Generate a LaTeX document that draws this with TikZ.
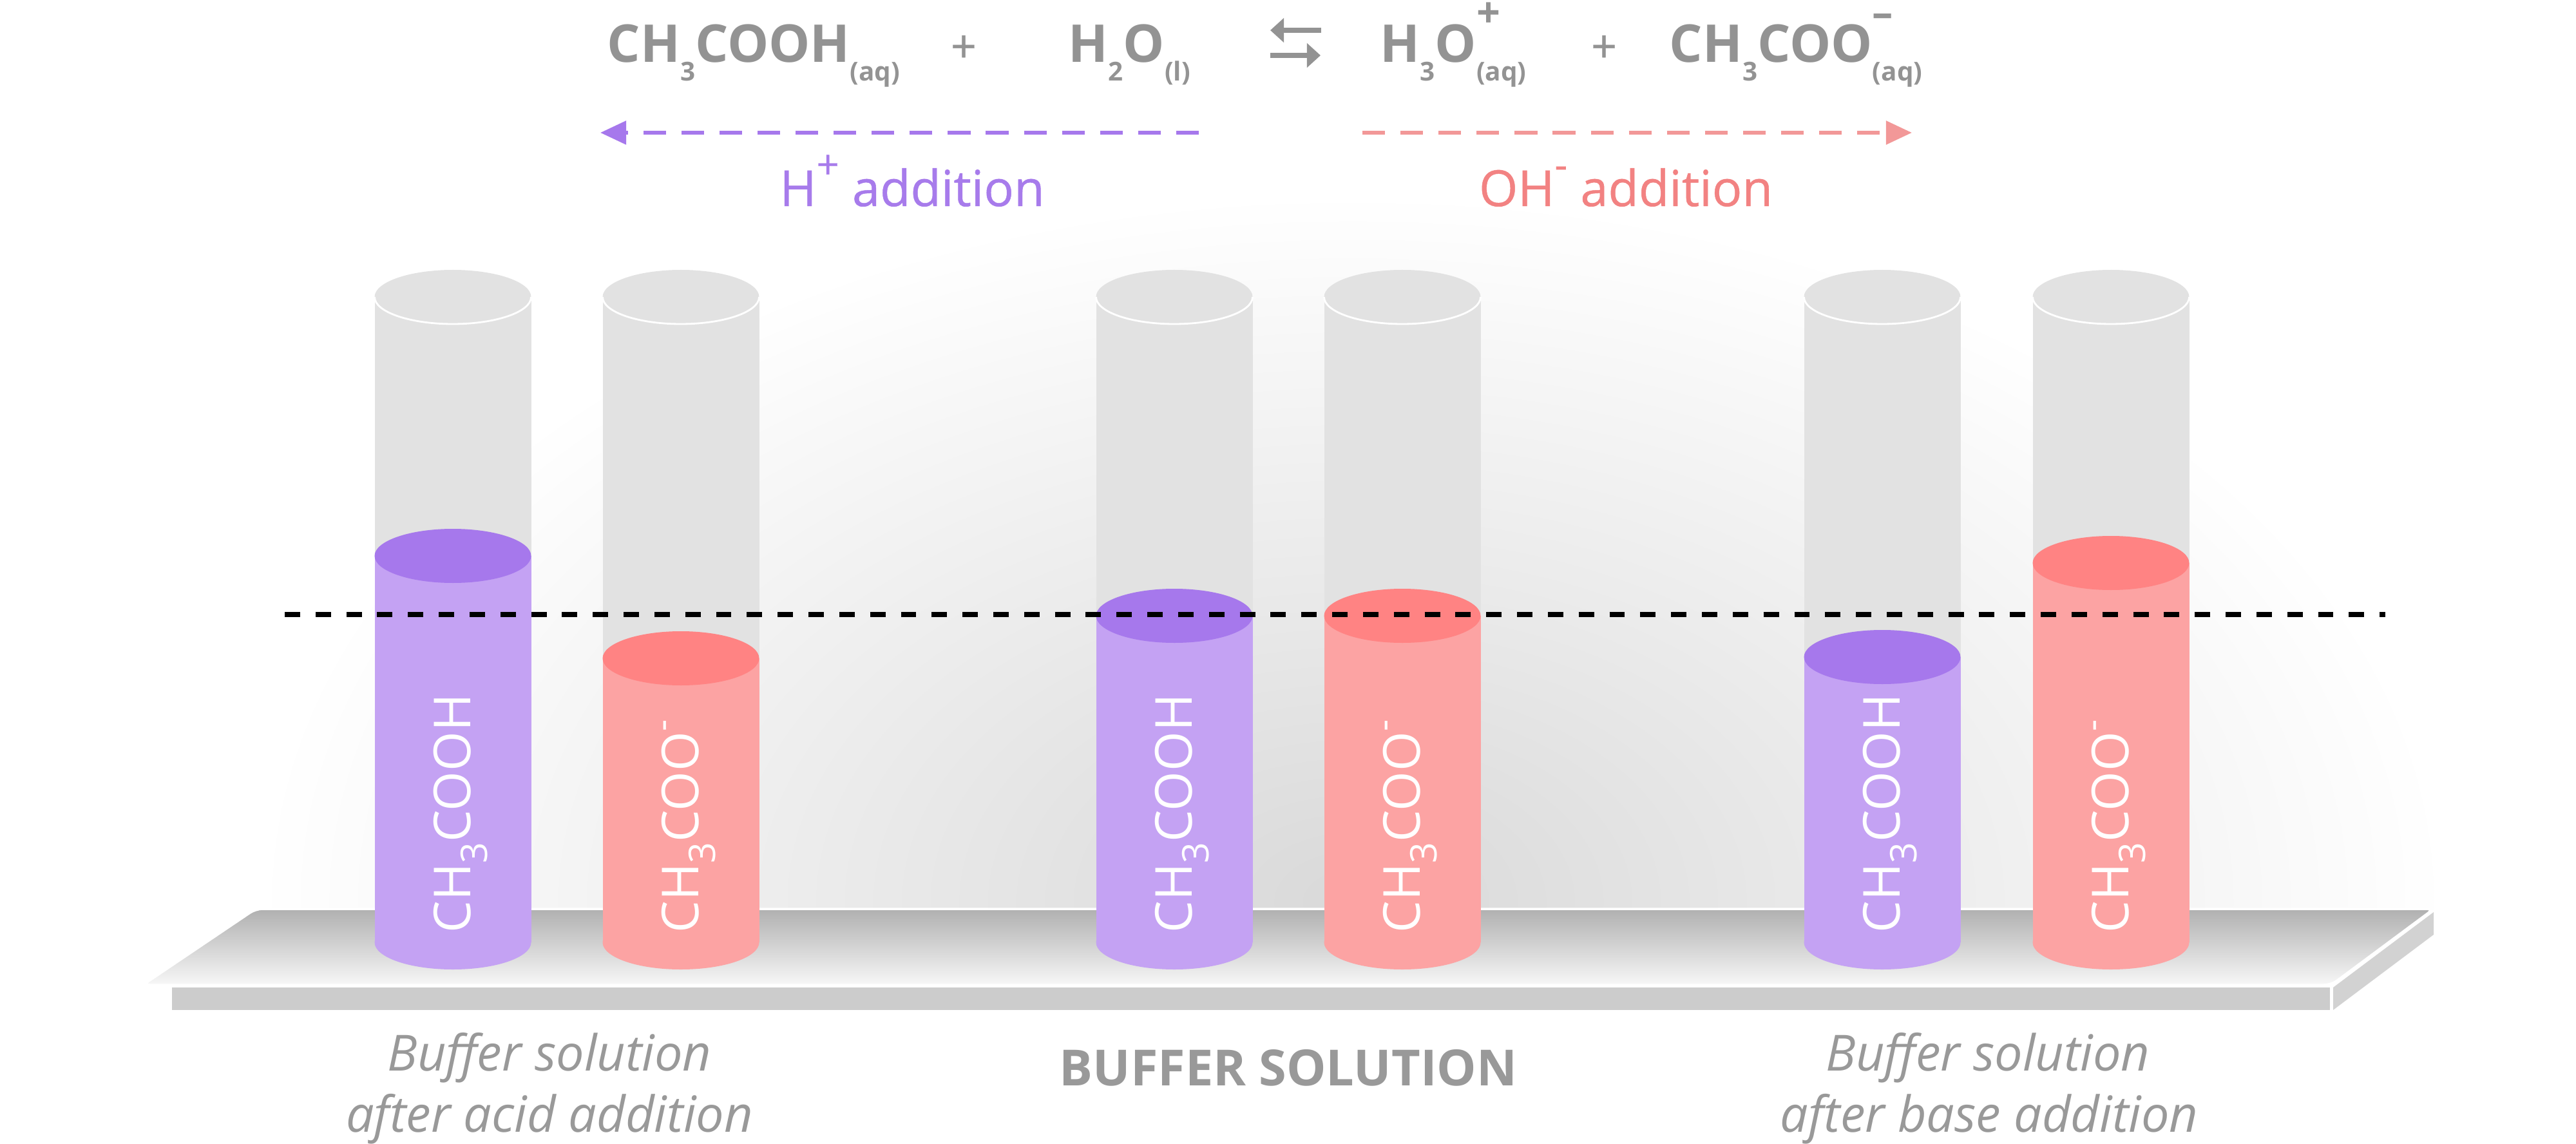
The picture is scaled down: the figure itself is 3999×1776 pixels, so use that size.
\documentclass[tikz,border=0pt]{standalone}
\usepackage{fontspec}
\setmainfont{Open Sans}
\newfontfamily\semibold[FakeBold=0.6]{Open Sans}
\usetikzlibrary{arrows.meta}
\definecolor{acidbody}{HTML}{C4A2F3}
\definecolor{acidtop}{HTML}{A678EC}
\definecolor{basebody}{HTML}{FCA3A3}
\definecolor{basetop}{HTML}{FF8383}
\definecolor{tubegray}{HTML}{E2E2E2}
\definecolor{txtgray}{HTML}{939393}
\definecolor{labgray}{HTML}{999999}
\definecolor{acidtxt}{HTML}{A77BEB}
\definecolor{basetxt}{HTML}{F28282}
\definecolor{basedash}{HTML}{F29898}
\definecolor{slabfront}{HTML}{CCCCCC}
\definecolor{slabside}{HTML}{D2D2D2}
\newcommand{\eqdn}[1]{\raisebox{-0.35em}{\scalebox{0.5}{#1}}}
\newcommand{\equp}[1]{\raisebox{0.67em}{\scalebox{0.8}{#1}}}
\newcommand{\eqion}[2]{\rlap{\equp{#1}}\eqdn{#2}}
\newcommand{\addup}[1]{\raisebox{0.55em}{\scalebox{0.8}{#1}}}
\newcommand{\cylsub}[1]{\raisebox{-0.34em}{\scalebox{0.72}{#1}}}
\newcommand{\cylsup}[1]{\raisebox{0.46em}{\scalebox{0.72}{#1}}}

\begin{document}
\begin{tikzpicture}[x=0.01cm,y=-0.01cm,
  eqtext/.style={inner sep=0pt,anchor=base west,text=txtgray,font=\fontsize{23}{28}\selectfont\bfseries},
  addtext/.style={inner sep=0pt,anchor=base,font=\fontsize{22}{26}\selectfont\semibold},
  cyltext/.style={inner sep=0pt,anchor=base west,rotate=90,text=white,font=\fontsize{22.5}{26}\selectfont},
  captext/.style={inner sep=0pt,anchor=base,text=labgray,font=\fontsize{22}{26}\selectfont\itshape},
  addarrow/.style={dash pattern=on 10pt off 6.8pt,line width=1.7pt,-{Triangle[length=11.4pt,width=10.2pt]}},
  eqarrow/.style={txtgray,line width=2.3pt,-{Triangle[length=6pt,width=10.5pt]}}]
\useasboundingbox (0,0) rectangle (3999,1776);
% soft glow behind the stand
\begin{scope}
\clip (0,0) rectangle (3999,1412);
\shade[inner color=black!15,outer color=white] (2100,1400) ellipse[x radius=1700,y radius=1100];
\end{scope}
% stand
\shade[top color=black!31,middle color=black!27,bottom color=black!3,draw=white,line width=1pt,rounded corners=3pt]
  (397,1411) -- (3778,1411) -- (3619,1529) -- (222,1529) -- cycle;
\fill[slabfront] (267,1533) rectangle (3617,1568);
\fill[slabside] (3622,1533) -- (3778,1416) -- (3778,1451) -- (3622,1568) -- cycle;
% tubes and their contents
\foreach \cx/\lvl/\cb/\ct/\txt [count=\i] in {703/863/acidbody/acidtop/{CH\cylsub{3}COOH},
    1057/1022/basebody/basetop/{CH\cylsub{3}COO\cylsup{-}},
    1823/956/acidbody/acidtop/{CH\cylsub{3}COOH},
    2177/956/basebody/basetop/{CH\cylsub{3}COO\cylsup{-}},
    2922/1020/acidbody/acidtop/{CH\cylsub{3}COOH},
    3277/874/basebody/basetop/{CH\cylsub{3}COO\cylsup{-}}}{
  \fill[tubegray] (\cx-121.5,461) rectangle (\cx+121.5,1463);
  \fill[tubegray] (\cx,461) ellipse[x radius=121.5,y radius=42];
  \draw[white,line width=0.8pt] (\cx+121.5,461) arc[start angle=0,end angle=180,x radius=121.5,y radius=42];
  \fill[\cb] (\cx-121.5,\lvl) rectangle (\cx+121.5,1463);
  \fill[\cb] (\cx,1463) ellipse[x radius=121.5,y radius=42];
  \fill[\ct] (\cx,\lvl) ellipse[x radius=121.5,y radius=42];
  \node[cyltext] (tube\i) at (\cx+27,1449) {\txt};
}
% buffer level
\coordinate (lvlL) at (442,954);
\coordinate (lvlR) at (3703,954);
\draw[black,line width=2.2pt,dash pattern=on 6.8pt off 6.8pt] (lvlL) -- (lvlR);
% equilibrium
\node[eqtext] (acid) at (942,97) {CH\eqdn{3}COOH\eqdn{(aq)}};
\node[eqtext,anchor=base,font=\fontsize{20}{24}\selectfont\semibold] (plus1) at (1496,97) {+};
\node[eqtext] (water) at (1658,97) {H\eqdn{2}O\eqdn{(l)}};
\node[eqtext] (hydronium) at (2142,97) {H\eqdn{3}O\eqion{+}{(aq)}};
\node[eqtext,anchor=base,font=\fontsize{20}{24}\selectfont\semibold] (plus2) at (2490,97) {+};
\node[eqtext] (acetate) at (2591,97) {CH\eqdn{3}COO\eqion{--}{(aq)}};
\coordinate (eqTR) at (2051,47);
\coordinate (eqTL) at (1972,47);
\coordinate (eqBL) at (1972,86);
\coordinate (eqBR) at (2050,86);
\draw[eqarrow] (eqTR) -- (eqTL);
\draw[eqarrow] (eqBL) -- (eqBR);
% shifts
\coordinate (hStart) at (1861,206);
\coordinate (hEnd) at (932,206);
\draw[addarrow,acidtop] (hStart) -- (hEnd);
\coordinate (ohStart) at (2115,206);
\coordinate (ohEnd) at (2968,206);
\draw[addarrow,basedash] (ohStart) -- (ohEnd);
\node[addtext,text=acidtxt] (hadd) at (1416,320) {H\addup{+} addition};
\node[addtext,text=basetxt] (ohadd) at (2524,320) {OH\addup{-} addition};
% captions
\node[captext] (acidcap1) at (853,1662) {Buffer solution};
\node[captext] (acidcap2) at (853,1757) {after acid addition};
\node[captext,font=\fontsize{22}{26}\selectfont\bfseries] (bufcap) at (2000,1685) {BUFFER SOLUTION};
\node[captext] (basecap1) at (3086,1662) {Buffer solution};
\node[captext] (basecap2) at (3088,1757) {after base addition};
\end{tikzpicture}
\end{document}
